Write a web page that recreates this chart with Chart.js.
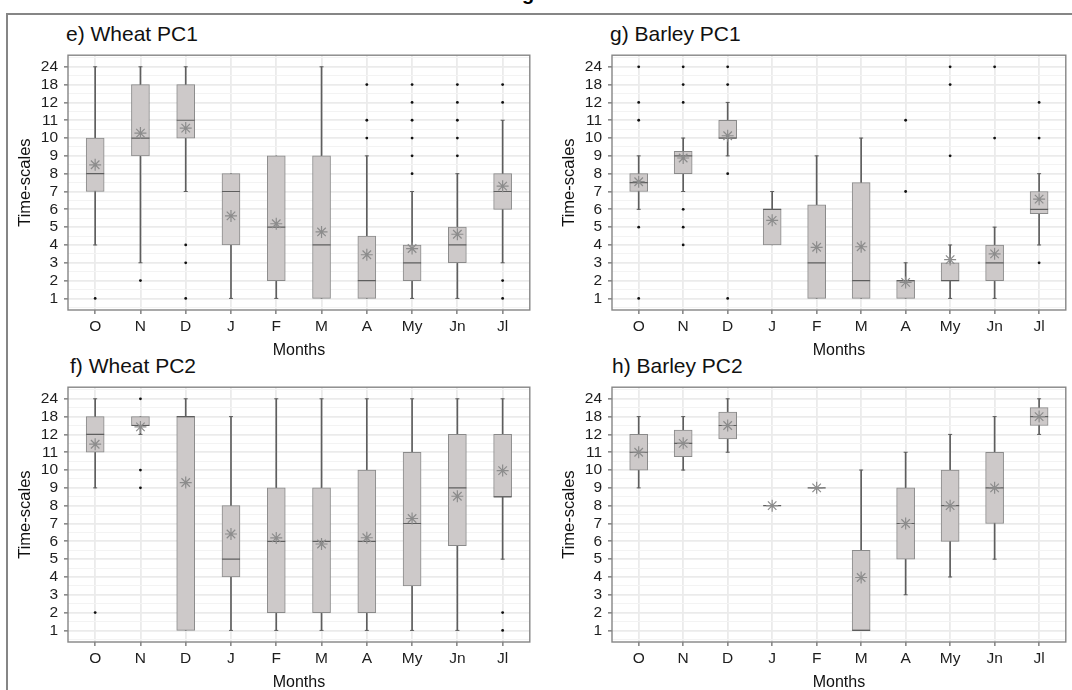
<!DOCTYPE html>
<html><head><meta charset="utf-8">
<script src="https://cdn.jsdelivr.net/npm/chart.js@4/dist/chart.umd.min.js"></script>
<style>
html,body{margin:0;padding:0;background:#fff;overflow:hidden;width:1072px;height:690px;}
body{position:relative;font-family:"Liberation Sans",Arial,sans-serif;}
.fr-top{position:absolute;left:6px;top:13px;width:1070px;height:2px;background:#868686;}
.fr-left{position:absolute;left:6px;top:13px;width:2px;height:690px;background:#868686;}
.pt{position:absolute;font-size:21px;line-height:21px;color:#111;white-space:nowrap;}
.cut{position:absolute;left:522px;top:-17px;font-size:20px;line-height:20px;font-weight:bold;color:#000;}
canvas{position:absolute;}
</style>
</head><body>
<div class="cut">g</div>
<div class="fr-top"></div><div class="fr-left"></div>
<div class="pt" style="left:66px;top:23px;">e) Wheat PC1</div>
<div class="pt" style="left:610px;top:23px;">g) Barley PC1</div>
<div class="pt" style="left:70px;top:355px;">f) Wheat PC2</div>
<div class="pt" style="left:612px;top:355px;">h) Barley PC2</div>
<canvas id="cE" width="530" height="315" style="left:10px;top:45px;"></canvas>
<canvas id="cG" width="522" height="315" style="left:554px;top:45px;"></canvas>
<canvas id="cF" width="530" height="315" style="left:10px;top:377px;"></canvas>
<canvas id="cH" width="522" height="315" style="left:554px;top:377px;"></canvas>
<script>
// ---- Data (y values are positions on the ordinal time-scale axis: 13 = "18", 14 = "24") ----
const months = ['O','N','D','J','F','M','A','My','Jn','Jl'];
const yLabels = ['1','2','3','4','5','6','7','8','9','10','11','12','18','24'];

// e) Wheat PC1
const wheat1_q1   = [7, 9, 10, 4, 2, 1, 1, 2, 3, 6];
const wheat1_q3   = [10, 13, 13, 8, 9, 9, 4.5, 4, 5, 8];
const wheat1_med  = [8, 10, 11, 7, 5, 4, 2, 3, 4, 7];
const wheat1_mean = [8.5, 10.28, 10.56, 5.63, 5.19, 4.73, 3.45, 3.8, 4.6, 7.3];
const wheat1_lo   = [4, 3, 7, 1, 1, 1, 1, 1, 1, 3];
const wheat1_hi   = [14, 14, 14, 8, 9, 14, 9, 7, 8, 11];
const wheat1_out  = [[1],[2],[4,3,1],[],[],[],[13,11,10],[13,12,11,10,9,8],[13,12,11,10,9],[13,12,2,1]];

// g) Barley PC1
const barley1_q1   = [7, 8, 10, 4, 1, 1, 1, 2, 2, 5.75];
const barley1_q3   = [8, 9.25, 11, 6, 6.25, 7.5, 2, 3, 4, 7];
const barley1_med  = [7.5, 9, 10, 6, 3, 2, 2, 2, 3, 6];
const barley1_mean = [7.55, 8.88, 10.13, 5.38, 3.87, 3.9, 1.9, 3.18, 3.5, 6.57];
const barley1_lo   = [6, 7, 9, 4, 1, 1, 1, 1, 1, 4];
const barley1_hi   = [9, 10, 12, 7, 9, 10, 3, 4, 5, 8];
const barley1_out  = [[14,12,11,5,1],[14,13,12,6,5,4],[14,13,8,1],[],[],[],[11,7],[14,13,9],[14,10],[12,10,3]];

// f) Wheat PC2
const wheat2_q1   = [11, 12.5, 1, 4, 2, 2, 2, 3.5, 5.75, 8.5];
const wheat2_q3   = [13, 13, 13, 8, 9, 9, 10, 11, 12, 12];
const wheat2_med  = [12, 12.5, 13, 5, 6, 6, 6, 7, 9, 8.5];
const wheat2_mean = [11.45, 12.42, 9.3, 6.41, 6.19, 5.85, 6.2, 7.28, 8.53, 9.97];
const wheat2_lo   = [9, 12, 1, 1, 1, 1, 1, 1, 1, 5];
const wheat2_hi   = [14, 13, 14, 13, 14, 14, 14, 14, 14, 14];
const wheat2_out  = [[2],[14,10,9],[],[],[],[],[],[],[],[2,1]];

// h) Barley PC2
const barley2_q1   = [10, 10.75, 11.75, 8, 9, 1, 5, 6, 7, 12.5];
const barley2_q3   = [12, 12.25, 13.25, 8, 9, 5.5, 9, 10, 11, 13.5];
const barley2_med  = [11, 11.5, 12.5, 8, 9, 1, 7, 8, 9, 13];
const barley2_mean = [11, 11.5, 12.5, 8, 9, 3.97, 7, 8, 9, 13];
const barley2_lo   = [9, 10, 11, 8, 9, 1, 3, 4, 5, 12];
const barley2_hi   = [13, 13, 14, 8, 9, 10, 11, 12, 13, 14];
const barley2_out  = [[],[],[],[],[],[],[],[],[],[]];

Chart.defaults.font.family = '"Liberation Sans", Arial, sans-serif';

function buildDatasets(q1,q3,med,mean,lo,hi,out){
  const idx = months.map((_,i)=>i);
  const whisk = idx.map(i=>({x:i,y:[lo[i],hi[i]]}));
  const box = idx.map(i=>({x:i,y:[q1[i],q3[i]]}));
  const medPts = idx.map(i=>({x:i,y:med[i]}));
  const meanPts = idx.map(i=>({x:i,y:mean[i]}));
  const caps = [];
  idx.forEach(i=>{ if(lo[i]<q1[i]) caps.push({x:i,y:lo[i]}); if(hi[i]>q3[i]) caps.push({x:i,y:hi[i]}); });
  const outPts = [];
  out.forEach((arr,i)=>arr.forEach(v=>outPts.push({x:i,y:v})));
  return [
    {type:'bar', data:whisk, grouped:false, barThickness:1, backgroundColor:'#5e5e5e', borderWidth:0, order:6},
    {type:'bar', data:box, grouped:false, barThickness:18, backgroundColor:'#cdc9c9', borderColor:'#8a8a8a', borderWidth:1, borderSkipped:false, order:5},
    {type:'scatter', data:caps, pointStyle:'line', pointRadius:2, pointBorderColor:'#5e5e5e', pointBorderWidth:1, order:4},
    {type:'scatter', data:medPts, pointStyle:'line', pointRadius:9, pointBorderColor:'#5e5e5e', pointBorderWidth:1.2, order:3},
    {type:'scatter', data:outPts, pointStyle:'circle', pointRadius:1.4, pointBackgroundColor:'#111', pointBorderWidth:0, order:2},
    {type:'scatter', data:meanPts, pointStyle:'star', pointRadius:6, pointBorderColor:'#8c8c8c', pointBorderWidth:1.2, order:1}
  ];
}

const framePlugin = {
  id:'frame',
  afterDraw(chart){
    const a = chart.chartArea, c = chart.ctx;
    c.save(); c.strokeStyle = '#858585'; c.lineWidth = 1.4;
    c.strokeRect(a.left, a.top, a.right-a.left, a.bottom-a.top);
    c.restore();
  }
};

function isMajor(v){ return Math.abs(v - Math.round(v)) < 1e-6; }

function makePanel(id, ds, padRight){
  new Chart(document.getElementById(id), {
    type:'bar',
    data:{datasets: ds},
    plugins:[framePlugin],
    options:{
      responsive:false, animation:false, devicePixelRatio:1, events:[],
      layout:{padding:{top:10, right:padRight, left:0, bottom:0}},
      plugins:{legend:{display:false}, tooltip:{enabled:false}},
      scales:{
        x:{
          type:'linear', min:-0.6, max:9.6, offset:false,
          afterBuildTicks: s => { s.ticks = months.map((m,i)=>({value:i})); },
          afterFit: s => { s.height = 50; s.paddingLeft = 0; s.paddingRight = 0; },
          ticks:{autoSkip:false, maxRotation:0, padding:3, color:'#1e1e1e', font:{size:15.5},
                 callback:(v,i)=>months[i]},
          grid:{offset:false, color:'#ebebeb', lineWidth:1.8, tickLength:4, tickColor:'#444', tickWidth:1},
          border:{display:false},
          title:{display:true, text:'Months', color:'#111', font:{size:16}, padding:{top:0,bottom:0}}
        },
        y:{
          type:'linear', min:0.35, max:14.65,
          afterBuildTicks: s => { const t=[]; for(let v=0.5; v<=14.5; v+=0.5) t.push({value:v}); s.ticks=t; },
          afterFit: s => { s.width = 58; s.paddingTop = 0; s.paddingBottom = 0; },
          ticks:{autoSkip:false, padding:6, color:'#1e1e1e', font:{size:15.5},
                 callback:(v)=> (isMajor(v) && v>=1 && v<=14) ? yLabels[Math.round(v)-1] : ''},
          grid:{
            color: ctx => isMajor(ctx.tick.value) ? '#ebebeb' : '#f3f3f3',
            lineWidth: ctx => isMajor(ctx.tick.value) ? 1.8 : 1,
            tickLength:4,
            tickColor: ctx => (isMajor(ctx.tick.value) && ctx.tick.value>=1 && ctx.tick.value<=14) ? '#444' : 'rgba(0,0,0,0)',
            tickWidth:1
          },
          border:{display:false},
          title:{display:true, text:'Time-scales', color:'#111', font:{size:16.5}, padding:{top:6,bottom:0}}
        }
      }
    }
  });
}

makePanel('cE', buildDatasets(wheat1_q1,wheat1_q3,wheat1_med,wheat1_mean,wheat1_lo,wheat1_hi,wheat1_out), 9);
makePanel('cG', buildDatasets(barley1_q1,barley1_q3,barley1_med,barley1_mean,barley1_lo,barley1_hi,barley1_out), 2);
makePanel('cF', buildDatasets(wheat2_q1,wheat2_q3,wheat2_med,wheat2_mean,wheat2_lo,wheat2_hi,wheat2_out), 9);
makePanel('cH', buildDatasets(barley2_q1,barley2_q3,barley2_med,barley2_mean,barley2_lo,barley2_hi,barley2_out), 2);
</script>
</body></html>
